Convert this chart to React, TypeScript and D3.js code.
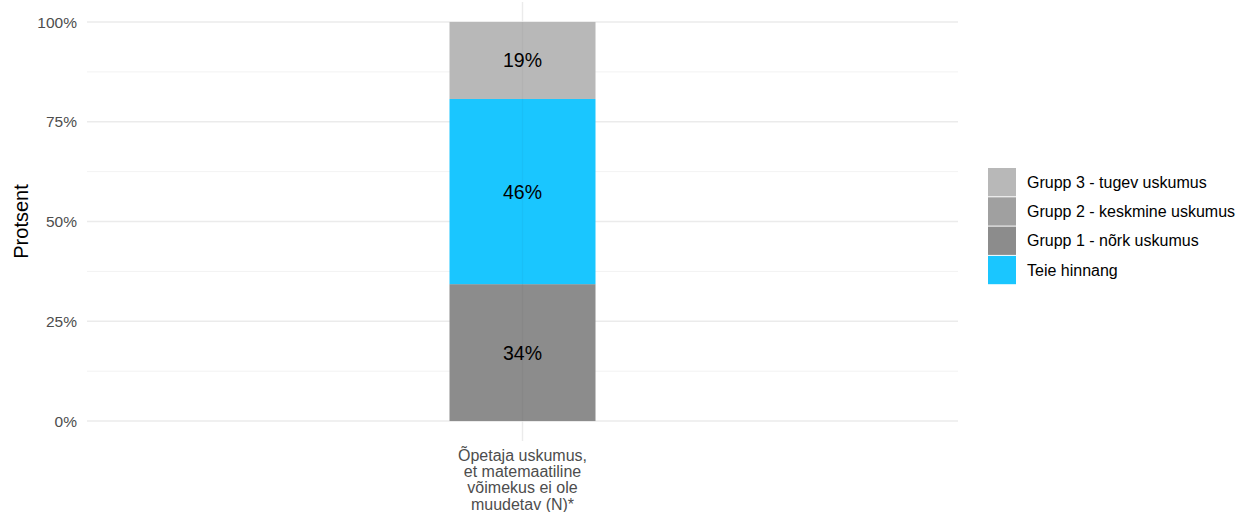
import React from "react";
import * as d3 from "d3";

const categories = ["Õpetaja uskumus,\net matemaatiline\nvõimekus ei ole\nmuudetav (N)*"];
const segmentKeys = ["Grupp 1 - nõrk uskumus", "Teie hinnang", "Grupp 3 - tugev uskumus"];
const segmentValues = [34.3, 46.4, 19.3];
const segmentLabels = ["34%", "46%", "19%"];
const legendKeys = ["Grupp 3 - tugev uskumus", "Grupp 2 - keskmine uskumus", "Grupp 1 - nõrk uskumus", "Teie hinnang"];
const yTicks = [0, 25, 50, 75, 100];
const yMinor = [12.5, 37.5, 62.5, 87.5];

const colors: Record<string, string> = {
  "Grupp 3 - tugev uskumus": "#b8b8b8",
  "Grupp 2 - keskmine uskumus": "#a0a0a0",
  "Grupp 1 - nõrk uskumus": "#8c8c8c",
  "Teie hinnang": "#1ac6ff",
};

const W = 1238, H = 512;
const panel = { left: 87, right: 958, top: 2, bottom: 441 };
const font = "'Liberation Sans', Arial, sans-serif";

export default function App() {
  const y = d3.scaleLinear().domain([-5, 105]).range([panel.bottom, panel.top]);
  const x = d3.scaleBand().domain(categories).range([panel.left, panel.right]).paddingInner(0.1).paddingOuter(0.37);
  const cx = (c: string) => (x(c) as number) + x.bandwidth() / 2;
  const barW = 146;
  let acc = 0;
  const segs = segmentValues.map((v, i) => {
    const s = { key: segmentKeys[i], y0: acc, y1: acc + v, label: segmentLabels[i] };
    acc += v;
    return s;
  });
  const cat = categories[0];
  return (
    <svg width={W} height={H} style={{ position: "absolute", left: 0, top: 0, background: "#fff" }} fontFamily={font}>
      {yMinor.map((t) => (
        <line key={"m" + t} x1={panel.left} x2={panel.right} y1={y(t)} y2={y(t)} stroke="#f1f1f1" strokeWidth={0.9} />
      ))}
      {yTicks.map((t) => (
        <line key={"g" + t} x1={panel.left} x2={panel.right} y1={y(t)} y2={y(t)} stroke="#ebebeb" strokeWidth={1.4} />
      ))}
      {categories.map((c) => (
        <line key={c} x1={cx(c)} x2={cx(c)} y1={panel.top} y2={panel.bottom} stroke="#ebebeb" strokeWidth={1.4} />
      ))}
      {segs.map((s) => (
        <rect key={s.key} x={cx(cat) - barW / 2} width={barW} y={y(s.y1)} height={y(s.y0) - y(s.y1)} fill={colors[s.key]} />
      ))}
      <line x1={cx(cat)} x2={cx(cat)} y1={y(100)} y2={y(0)} stroke="#000" strokeOpacity={0.03} strokeWidth={1.4} />
      {segs.map((s) => (
        <text key={"l" + s.key} x={cx(cat)} y={y((s.y0 + s.y1) / 2)} dy="0.36em" textAnchor="middle" fontSize={19.5} fill="#000">
          {s.label}
        </text>
      ))}
      {yTicks.map((t) => (
        <text key={"t" + t} x={77} y={y(t)} dy="0.36em" textAnchor="end" fontSize={15.5} fill="#4d4d4d">
          {t + "%"}
        </text>
      ))}
      <text transform={`translate(28,${(y(0) + y(100)) / 2}) rotate(-90)`} textAnchor="middle" fontSize={20} fill="#000">
        Protsent
      </text>
      {categories.map((c) => (
        <text key={"x" + c} x={cx(c)} y={461} textAnchor="middle" fontSize={16} fill="#4d4d4d">
          {c.split("\n").map((ln, i) => (
            <tspan key={i} x={cx(c)} dy={i === 0 ? 0 : 16.2}>
              {ln}
            </tspan>
          ))}
        </text>
      ))}
      {legendKeys.map((k, i) => (
        <g key={k} transform={`translate(988,${168 + i * 29.3})`}>
          <rect width={28} height={28.3} fill={colors[k]} />
          <text x={39} y={14} dy="0.36em" fontSize={16} fill="#000">
            {k}
          </text>
        </g>
      ))}
    </svg>
  );
}
